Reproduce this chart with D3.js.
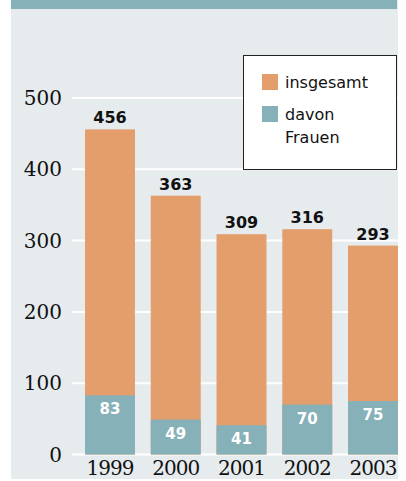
<!DOCTYPE html>
<html>
<head>
<meta charset="utf-8">
<script src="https://cdn.jsdelivr.net/npm/d3@7"></script>
<style>
  body { margin: 0; background: #fff; }
</style>
</head>
<body>
<div id="chart"></div>
<script>
var years = ["1999", "2000", "2001", "2002", "2003"];
var totals = [456, 363, 309, 316, 293];
var women = [83, 49, 41, 70, 75];
var yTicks = [0, 100, 200, 300, 400, 500];
var legendLabels = [["insgesamt"], ["davon", "Frauen"]];

var width = 406, height = 481;
var orange = "#e49e6c", teal = "#86b1b8", panel = "#e6ebee";

var svg = d3.select("#chart").append("svg")
    .attr("width", width)
    .attr("height", height);

// background panel + top band
svg.append("rect").attr("x", 11).attr("y", 0).attr("width", 387).attr("height", 479).attr("fill", panel);
svg.append("rect").attr("x", 11).attr("y", 0).attr("width", 386).attr("height", 9).attr("fill", teal);

var x = d3.scaleBand()
    .domain(years)
    .range([85, 398])
    .paddingInner(0.24)
    .paddingOuter(0);

var y = d3.scaleLinear()
    .domain([0, 500])
    .range([454.5, 98]);

// grid lines
svg.append("g")
    .selectAll("line")
    .data(yTicks)
    .join("line")
    .attr("x1", 72)
    .attr("x2", 398)
    .attr("y1", d => y(d))
    .attr("y2", d => y(d))
    .attr("stroke", "#fff")
    .attr("stroke-width", 2);

// y tick labels
svg.append("g")
    .selectAll("text")
    .data(yTicks)
    .join("text")
    .attr("x", 62)
    .attr("y", d => y(d) + 7)
    .attr("text-anchor", "end")
    .attr("font-family", "DejaVu Serif")
    .attr("font-size", 20)
    .attr("fill", "#111")
    .text(d => d);

// bars
var bars = svg.append("g");
bars.selectAll(".total")
    .data(years)
    .join("rect")
    .attr("class", "total")
    .attr("x", d => x(d))
    .attr("width", x.bandwidth())
    .attr("y", (d, i) => y(totals[i]))
    .attr("height", (d, i) => y(0) - y(totals[i]))
    .attr("fill", orange);

bars.selectAll(".women")
    .data(years)
    .join("rect")
    .attr("class", "women")
    .attr("x", d => x(d))
    .attr("width", x.bandwidth())
    .attr("y", (d, i) => y(women[i]))
    .attr("height", (d, i) => y(0) - y(women[i]))
    .attr("fill", teal);

// value labels
svg.append("g")
    .selectAll("text")
    .data(years)
    .join("text")
    .attr("x", d => x(d) + x.bandwidth() / 2)
    .attr("y", (d, i) => y(totals[i]) - 6)
    .attr("text-anchor", "middle")
    .attr("font-family", "DejaVu Sans")
    .attr("font-weight", "bold")
    .attr("font-size", 16)
    .attr("fill", "#111")
    .text((d, i) => totals[i]);

svg.append("g")
    .selectAll("text")
    .data(years)
    .join("text")
    .attr("x", d => x(d) + x.bandwidth() / 2)
    .attr("y", (d, i) => y(women[i]) + 19)
    .attr("text-anchor", "middle")
    .attr("font-family", "DejaVu Sans")
    .attr("font-weight", "bold")
    .attr("font-size", 15)
    .attr("fill", "#fff")
    .text((d, i) => women[i]);

// x labels
svg.append("g")
    .selectAll("text")
    .data(years)
    .join("text")
    .attr("x", d => x(d) + x.bandwidth() / 2)
    .attr("y", 475)
    .attr("text-anchor", "middle")
    .attr("font-family", "DejaVu Serif")
    .attr("font-size", 20)
    .attr("letter-spacing", -1)
    .attr("fill", "#111")
    .text(d => d);

// legend
var legend = svg.append("g").attr("transform", "translate(243,55)");
legend.append("rect")
    .attr("x", 0.5).attr("y", 0.5)
    .attr("width", 153).attr("height", 114)
    .attr("fill", "#fff")
    .attr("stroke", "#222")
    .attr("stroke-width", 1);

var items = legend.selectAll(".item")
    .data(legendLabels)
    .join("g")
    .attr("class", "item")
    .attr("transform", (d, i) => "translate(19," + (19 + i * 32) + ")");

items.append("rect")
    .attr("width", 16).attr("height", 16)
    .attr("fill", (d, i) => i === 0 ? orange : teal);

items.append("text")
    .attr("x", 23)
    .attr("y", 14)
    .attr("font-family", "DejaVu Sans")
    .attr("font-size", 16)
    .attr("fill", "#111")
    .selectAll("tspan")
    .data(d => d)
    .join("tspan")
    .attr("x", 23)
    .attr("dy", (d, i) => i === 0 ? 0 : 23)
    .text(d => d);
</script>
</body>
</html>
